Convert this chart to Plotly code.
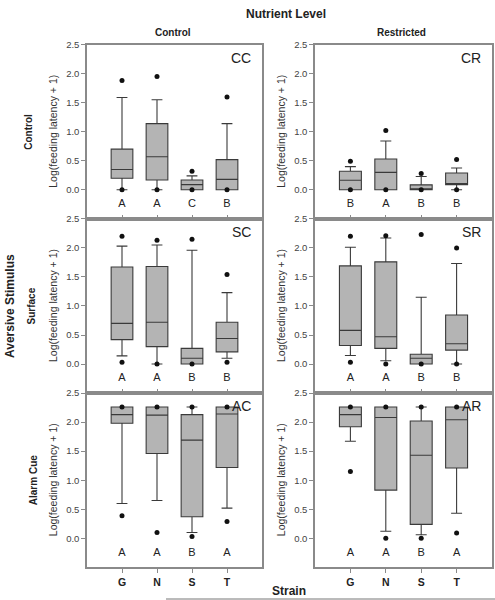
import plotly.graph_objects as go

strains = ["G", "N", "S", "T"]
xpos = [1, 2, 3, 4]

# Panel CC (Control stimulus, Control nutrient)
cc_q1 = [0.20, 0.17, 0.00, 0.00]
cc_med = [0.35, 0.57, 0.09, 0.18]
cc_q3 = [0.70, 1.14, 0.17, 0.52]
cc_lo = [0.00, 0.00, 0.00, 0.00]
cc_hi = [1.59, 1.55, 0.24, 1.14]
cc_out = [[1.88, 0.0], [1.95, 0.0], [0.32, 0.0], [1.60, 0.0]]
cc_letters = ["A", "A", "C", "B"]

# Panel CR
cr_q1 = [0.00, 0.00, 0.00, 0.09]
cr_med = [0.165, 0.30, 0.00, 0.09]
cr_q3 = [0.32, 0.53, 0.085, 0.29]
cr_lo = [0.00, 0.00, 0.00, 0.00]
cr_hi = [0.40, 0.84, 0.23, 0.375]
cr_out = [[0.49, 0.0], [1.02, 0.0], [0.28, 0.0], [0.52, 0.0]]
cr_letters = ["B", "A", "B", "B"]

# Panel SC
sc_q1 = [0.42, 0.30, 0.00, 0.21]
sc_med = [0.70, 0.72, 0.10, 0.44]
sc_q3 = [1.67, 1.68, 0.27, 0.72]
sc_lo = [0.14, 0.00, 0.00, 0.10]
sc_hi = [2.03, 2.05, 1.96, 1.23]
sc_out = [[2.20, 0.03], [2.13, 0.0], [2.15, 0.0], [1.54, 0.03]]
sc_letters = ["A", "A", "B", "B"]

# Panel SR
sr_q1 = [0.32, 0.27, 0.00, 0.24]
sr_med = [0.58, 0.47, 0.10, 0.35]
sr_q3 = [1.69, 1.76, 0.17, 0.845]
sr_lo = [0.146, 0.056, 0.00, 0.00]
sr_hi = [2.01, 2.17, 1.15, 1.73]
sr_out = [[2.20, 0.03], [2.21, 0.0], [2.23, 0.0], [2.00, 0.0]]
sr_letters = ["A", "A", "B", "B"]

# Panel AC
ac_q1 = [1.98, 1.46, 0.37, 1.22]
ac_med = [2.13, 2.12, 1.69, 2.14]
ac_q3 = [2.26, 2.26, 2.13, 2.26]
ac_lo = [0.60, 0.65, 0.10, 0.52]
ac_hi = [2.26, 2.26, 2.26, 2.26]
ac_out = [[2.26, 0.39], [2.26, 0.10], [2.26, 0.03], [2.26, 0.29]]
ac_letters = ["A", "A", "B", "A"]

# Panel AR
ar_q1 = [1.92, 0.83, 0.24, 1.21]
ar_med = [2.13, 2.08, 1.43, 2.04]
ar_q3 = [2.26, 2.26, 2.02, 2.26]
ar_lo = [1.67, 0.12, 0.06, 0.43]
ar_hi = [2.26, 2.26, 2.26, 2.26]
ar_out = [[2.26, 1.15], [2.26, 0.0], [2.26, 0.0], [2.26, 0.09]]
ar_letters = ["A", "A", "B", "A"]

panel_names = ["CC", "CR", "SC", "SR", "AC", "AR"]
row_labels = ["Control", "Surface", "Alarm Cue"]
col_labels = ["Control", "Restricted"]
y_ticks = [0.0, 0.5, 1.0, 1.5, 2.0, 2.5]
y_tick_text = ["0.0", "0.5", "1.0", "1.5", "2.0", "2.5"]

panels = [
    (cc_q1, cc_med, cc_q3, cc_lo, cc_hi, cc_out, cc_letters),
    (cr_q1, cr_med, cr_q3, cr_lo, cr_hi, cr_out, cr_letters),
    (sc_q1, sc_med, sc_q3, sc_lo, sc_hi, sc_out, sc_letters),
    (sr_q1, sr_med, sr_q3, sr_lo, sr_hi, sr_out, sr_letters),
    (ac_q1, ac_med, ac_q3, ac_lo, ac_hi, ac_out, ac_letters),
    (ar_q1, ar_med, ar_q3, ar_lo, ar_hi, ar_out, ar_letters),
]

W, H = 495, 600
FONT = "Liberation Sans, Arial, sans-serif"
AXC = "#8a8a8a"

col_px = [(87, 262), (315, 492)]
row_px = [(39, 215), (215, 391), (391, 567)]


def px_x(p):
    return p / W


def px_y(p):
    return 1 - p / H


fig = go.Figure()
layout = dict(
    width=W, height=H,
    margin=dict(l=0, r=0, t=0, b=0),
    paper_bgcolor="white", plot_bgcolor="white",
    showlegend=False,
    font=dict(family=FONT, color="#333"),
)
annotations = []

for i, (q1, med, q3, lo, hi, outs, letters) in enumerate(panels):
    r, c = divmod(i, 2)
    k = i + 1
    xa = "x" if k == 1 else f"x{k}"
    ya = "y" if k == 1 else f"y{k}"
    fig.add_trace(go.Box(
        x=xpos, q1=q1, median=med, q3=q3, lowerfence=lo, upperfence=hi,
        width=0.62, whiskerwidth=0.5, boxpoints=False,
        fillcolor="#b4b4b4", line=dict(color="#3a3a3a", width=1.1),
        xaxis=xa, yaxis=ya, hoverinfo="skip",
    ))
    ox, oy = [], []
    for xi, vals in zip(xpos, outs):
        for v in vals:
            ox.append(xi)
            oy.append(v)
    fig.add_trace(go.Scatter(
        x=ox, y=oy, mode="markers",
        marker=dict(color="#111", size=5),
        xaxis=xa, yaxis=ya, hoverinfo="skip",
    ))
    fig.add_trace(go.Scatter(
        x=xpos, y=[-0.25] * 4, mode="text", text=letters,
        textfont=dict(family=FONT, size=11, color="#222"),
        xaxis=xa, yaxis=ya, hoverinfo="skip",
    ))
    x0, x1 = col_px[c]
    y0, y1 = row_px[r]
    bottom = (r == 2)
    layout["xaxis" if k == 1 else f"xaxis{k}"] = dict(
        domain=[px_x(x0), px_x(x1)], anchor=ya, range=[0, 5],
        tickvals=xpos, ticktext=[f"<b>{s}</b>" for s in strains],
        showticklabels=bottom, ticks="outside" if bottom else "inside",
        ticklen=4, tickcolor=AXC, tickwidth=1,
        tickfont=dict(family=FONT, size=10.5, color="#222"),
        showline=True, linecolor=AXC, linewidth=1.5, mirror=True,
        showgrid=False, zeroline=False, fixedrange=True,
    )
    layout["yaxis" if k == 1 else f"yaxis{k}"] = dict(
        domain=[px_y(y1), px_y(y0)], anchor=xa, range=[-0.5, 2.5],
        tickvals=y_ticks, ticktext=y_tick_text,
        ticks="outside", ticklen=4, tickcolor=AXC, tickwidth=1,
        tickfont=dict(family=FONT, size=9.5, color="#444"),
        showline=True, linecolor=AXC, linewidth=1.5, mirror=True,
        showgrid=False, zeroline=False, fixedrange=True,
    )
    # panel tag
    annotations.append(dict(
        text=panel_names[i], x=px_x(x1 - 9), y=px_y(y0 + 3),
        xref="paper", yref="paper", xanchor="right", yanchor="top",
        showarrow=False, font=dict(family=FONT, size=14, color="#222"),
    ))
    # y axis title
    annotations.append(dict(
        text="Log(feeding latency + 1)", x=px_x(x0 - 34), y=px_y((y0 + y1) / 2),
        xref="paper", yref="paper", xanchor="center", yanchor="middle",
        textangle=-90, showarrow=False,
        font=dict(family=FONT, size=10.5, color="#333"),
    ))

# Column headers
for c, lab in enumerate(col_labels):
    cx = [172.5, 401][c]
    annotations.append(dict(
        text=f"<b>{lab}</b>", x=px_x(cx), y=px_y(27), xref="paper", yref="paper",
        xanchor="center", yanchor="middle", showarrow=False,
        font=dict(family=FONT, size=10, color="#222"),
    ))
# Row labels
for r, lab in enumerate(row_labels):
    cy = (row_px[r][0] + row_px[r][1]) / 2
    cx = [29, 31.5, 33][r]
    annotations.append(dict(
        text=f"<b>{lab}</b>", x=px_x(cx), y=px_y(cy), xref="paper", yref="paper",
        xanchor="center", yanchor="middle", textangle=-90, showarrow=False,
        font=dict(family=FONT, size=10, color="#222"),
    ))
annotations.append(dict(
    text="<b>Nutrient Level</b>", x=px_x(286), y=px_y(8), xref="paper", yref="paper",
    xanchor="center", yanchor="middle", showarrow=False,
    font=dict(family=FONT, size=12, color="#222"),
))
annotations.append(dict(
    text="<b>Aversive Stimulus</b>", x=px_x(10), y=px_y(303), xref="paper", yref="paper",
    xanchor="center", yanchor="middle", textangle=-90, showarrow=False,
    font=dict(family=FONT, size=12, color="#222"),
))
annotations.append(dict(
    text="<b>Strain</b>", x=px_x(288.5), y=px_y(591), xref="paper", yref="paper",
    xanchor="center", yanchor="middle", showarrow=False,
    font=dict(family=FONT, size=12, color="#222"),
))
layout["annotations"] = annotations
layout["shapes"] = [dict(
    type="line", xref="paper", yref="paper",
    x0=px_x(166), x1=1, y0=px_y(599), y1=px_y(599),
    line=dict(color="#777", width=1),
)]
fig.update_layout(**layout)
fig.write_html(
    "out.html",
    config={"displayModeBar": False},
    post_script="document.body.style.margin='0';document.body.style.padding='0';"
                "document.documentElement.style.overflow='hidden';",
)
